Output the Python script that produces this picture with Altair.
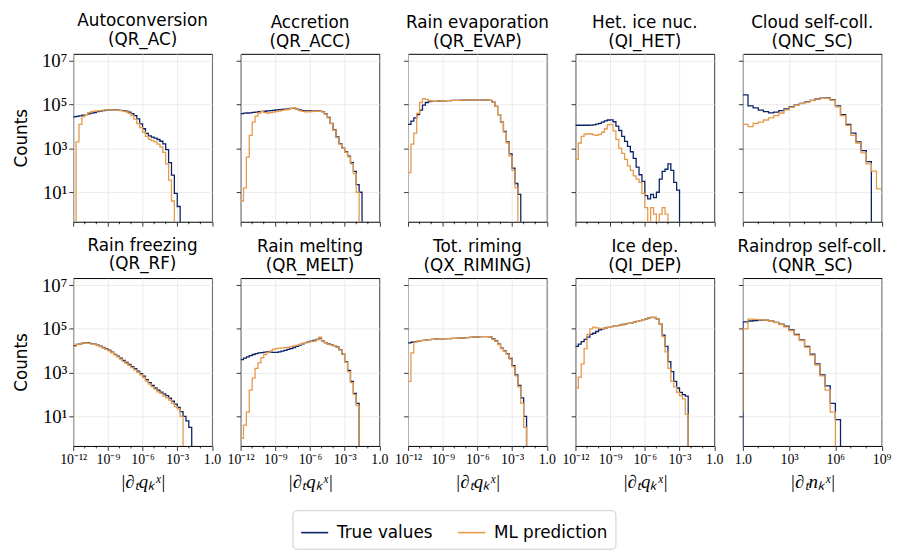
import altair as alt
import pandas as pd

SERIES = ["True values", "ML prediction"]
COLORS = ["#0c2266", "#e59a4a"]

TITLES = [
    ["Autoconversion", "(QR_AC)"],
    ["Accretion", "(QR_ACC)"],
    ["Rain evaporation", "(QR_EVAP)"],
    ["Het.  ice nuc.", "(QI_HET)"],
    ["Cloud self-coll.", "(QNC_SC)"],
    ["Rain freezing", "(QR_RF)"],
    ["Rain melting", "(QR_MELT)"],
    ["Tot.  riming", "(QX_RIMING)"],
    ["Ice dep.", "(QI_DEP)"],
    ["Raindrop self-coll.", "(QNR_SC)"],
]
KINDS = ["q", "q", "q", "q", "n", "q", "q", "q", "q", "n"]

# histogram bins (log10 of bin lower edges): start, width, end
BIN_START = [-12, -12, -12, -12, 0, -12, -12, -12, -12, -1 / 3]
BIN_WIDTH = {"q": 0.25, "n": 1 / 3}
BIN_END = {"q": 0.0, "n": 9.0}

# log10(counts) per bin, None = empty bin
TRUE_QR_AC = [4.44, 4.47, 4.49, 4.52, 4.55, 4.58, 4.61, 4.64, 4.68, 4.71, 4.73, 4.75, 4.76, 4.76, 4.76, 4.75,
              4.74, 4.73, 4.71, 4.66, 4.59, 4.50, 4.35, 4.12, 3.90, 3.69, 3.58, 3.52, 3.47, 3.41, 3.33, 3.21,
              2.95, 2.35, 1.78, 0.95, 0.35]
ML_QR_AC = [None, 3.3, 4.1, 4.45, 4.55, 4.64, 4.68, 4.70, 4.72, 4.73, 4.75, 4.76, 4.76, 4.76, 4.75, 4.74,
            4.73, 4.71, 4.67, 4.60, 4.50, 4.34, 4.14, 3.95, 3.74, 3.55, 3.42, 3.36, 3.30, 3.20, 3.07, 2.82,
            2.30, 1.55, 0.60]
TRUE_QR_ACC = [4.59, 4.61, 4.62, 4.63, 4.65, 4.66, 4.68, 4.69, 4.70, 4.72, 4.73, 4.74, 4.76, 4.77, 4.79, 4.80,
               4.81, 4.83, 4.84, 4.80, 4.76, 4.73, 4.72, 4.72, 4.72, 4.72, 4.72, 4.71, 4.68, 4.58, 4.42, 4.15,
               3.85, 3.53, 3.22, 3.02, 2.85, 2.65, 2.35, 1.95, 1.35, 1.0]
ML_QR_ACC = [0.6, 1.2, 2.6, 3.6, 4.2, 4.48, 4.62, 4.68, 4.64, 4.62, 4.64, 4.66, 4.68, 4.71, 4.74, 4.76,
             4.78, 4.82, 4.86, 4.80, 4.73, 4.69, 4.67, 4.67, 4.68, 4.70, 4.71, 4.70, 4.67, 4.57, 4.40, 4.13,
             3.83, 3.50, 3.20, 3.00, 2.83, 2.62, 2.30, 1.85, 1.0]
TRUE_QR_EVAP = [4.1, 4.25, 4.4, 4.55, 4.75, 4.98, 5.10, 5.14, 5.15, 5.15, 5.16, 5.17, 5.18, 5.19, 5.19, 5.20,
                5.20, 5.20, 5.21, 5.21, 5.21, 5.21, 5.22, 5.22, 5.22, 5.22, 5.22, 5.22, 5.20, 5.13, 4.92, 4.55,
                4.20, 3.78, 3.30, 2.75, 2.10, 1.40, 0.90]
ML_QR_EVAP = [1.9, 3.2, 3.7, 4.6, 5.1, 5.28, 5.24, 5.18, 5.16, 5.15, 5.16, 5.17, 5.18, 5.19, 5.19, 5.20,
              5.20, 5.20, 5.21, 5.21, 5.21, 5.21, 5.22, 5.22, 5.22, 5.22, 5.22, 5.22, 5.20, 5.13, 4.92, 4.55,
              4.18, 3.75, 3.25, 2.65, 2.0, 1.2]
TRUE_QI_HET = [4.06, 4.06, 4.06, 4.06, 4.06, 4.07, 4.08, 4.11, 4.15, 4.20, 4.26, 4.30, 4.31, 4.22, 4.02, 3.82,
               3.55, 3.32, 3.10, 2.85, 2.55, 2.15, 1.80, 1.50, 0.85, 0.70, 0.90, 0.75, 1.00, 1.60, 1.95, 2.05,
               2.30, 2.00, 1.45, 1.10]
ML_QI_HET = [2.5, 3.25, 3.55, 3.65, 3.68, 3.66, 3.62, 3.60, 3.64, 3.74, 3.90, 4.08, 4.10, 3.80, 3.42, 3.00,
             2.78, 2.50, 2.20, 2.00, 1.75, 1.60, 1.45, 0.95, 0.30, None, 0.30, 0.0, None, 0.0, 0.30, 0.0]
TRUE_QNC_SC = [5.45, 4.95, 4.85, 4.75, 4.68, 4.63, 4.66, 4.73, 4.81, 4.90, 4.98, 5.06, 5.13, 5.20, 5.26, 5.30,
               5.31, 5.22, 4.95, 4.55, 4.10, 3.70, 3.30, 2.90, 2.40]
ML_QNC_SC = [4.1, 4.0, 4.15, 4.2, 4.3, 4.4, 4.5, 4.62, 4.76, 4.88, 4.97, 5.05, 5.12, 5.19, 5.25, 5.29,
             5.30, 5.20, 4.90, 4.50, 4.05, 3.60, 3.25, 2.80, 2.30, 1.97, 1.15]
TRUE_QR_RF = [4.24, 4.29, 4.32, 4.35, 4.37, 4.36, 4.33, 4.30, 4.26, 4.21, 4.15, 4.10, 4.03, 3.94, 3.84, 3.76,
              3.66, 3.56, 3.47, 3.38, 3.28, 3.18, 3.07, 2.96, 2.84, 2.68, 2.55, 2.42, 2.30, 2.20, 2.11, 2.03,
              1.95, 1.84, 1.70, 1.56, 1.42, 1.22, 1.00, 0.80, 0.50]
ML_QR_RF = [4.20, 4.28, 4.32, 4.35, 4.36, 4.35, 4.32, 4.29, 4.24, 4.19, 4.13, 4.07, 4.00, 3.91, 3.81, 3.72,
            3.62, 3.52, 3.43, 3.33, 3.23, 3.13, 3.02, 2.90, 2.78, 2.62, 2.48, 2.36, 2.25, 2.12, 2.05, 1.93,
            1.85, 1.75, 1.60, 1.45, 1.35, 1.0]
TRUE_QR_MELT = [3.60, 3.66, 3.72, 3.78, 3.83, 3.87, 3.90, 3.92, 3.94, 3.95, 3.94, 3.93, 3.93, 3.95, 3.98, 4.02,
                4.06, 4.10, 4.15, 4.20, 4.26, 4.32, 4.37, 4.41, 4.44, 4.47, 4.52, 4.58, 4.45, 4.37, 4.31, 4.28,
                4.24, 4.18, 4.05, 3.85, 3.50, 3.10, 2.60, 2.05, 1.60]
ML_QR_MELT = [0.0, 0.6, 1.2, 2.2, 2.75, 3.2, 3.45, 3.68, 3.82, 3.92, 4.00, 4.06, 4.10, 4.12, 4.13, 4.14,
              4.16, 4.19, 4.22, 4.25, 4.29, 4.34, 4.37, 4.40, 4.42, 4.44, 4.50, 4.62, 4.45, 4.36, 4.30, 4.27,
              4.23, 4.17, 4.04, 3.85, 3.48, 3.05, 2.55, 2.0, 1.5]
TRUE_QX_RIMING = [4.36, 4.39, 4.41, 4.43, 4.46, 4.48, 4.50, 4.51, 4.52, 4.53, 4.54, 4.55, 4.55, 4.56, 4.56, 4.57,
                  4.57, 4.58, 4.58, 4.59, 4.60, 4.61, 4.62, 4.63, 4.64, 4.65, 4.65, 4.65, 4.64, 4.55, 4.45, 4.30,
                  4.12, 4.00, 3.87, 3.65, 3.32, 2.90, 2.42, 1.85, 1.00]
ML_QX_RIMING = [2.6, 3.9, 4.38, 4.44, 4.46, 4.48, 4.50, 4.51, 4.52, 4.53, 4.54, 4.55, 4.55, 4.56, 4.56, 4.57,
                4.57, 4.58, 4.58, 4.59, 4.60, 4.61, 4.62, 4.63, 4.64, 4.65, 4.65, 4.65, 4.64, 4.53, 4.43, 4.28,
                4.10, 3.98, 3.85, 3.62, 3.28, 2.85, 2.35, 1.60, 0.50]
TRUE_QI_DEP = [4.20, 4.30, 4.42, 4.52, 4.62, 4.75, 4.80, 4.88, 4.95, 5.00, 5.04, 5.07, 5.10, 5.12, 5.15, 5.17,
               5.20, 5.23, 5.25, 5.28, 5.31, 5.34, 5.38, 5.42, 5.46, 5.50, 5.53, 5.52, 5.45, 5.22, 4.72, 4.20,
               3.50, 3.05, 2.60, 2.30, 2.10, 2.00, 1.93]
ML_QI_DEP = [2.3, 2.8, 3.4, 4.1, 4.75, 5.0, 5.08, 5.05, 5.02, 5.02, 5.04, 5.07, 5.10, 5.12, 5.15, 5.17,
             5.20, 5.23, 5.25, 5.28, 5.31, 5.34, 5.38, 5.42, 5.46, 5.50, 5.53, 5.52, 5.45, 5.20, 4.65, 3.95,
             3.20, 2.60, 2.35, 2.10, 1.95, 1.80, 1.10]
TRUE_QNR_SC = [None, 5.32, 5.36, 5.38, 5.40, 5.40, 5.37, 5.30, 5.22, 5.12, 4.95, 4.75, 4.50, 4.20, 3.85, 3.40,
               2.90, 2.40, 1.60, 0.86]
ML_QNR_SC = [1.24, 5.0, 5.45, 5.43, 5.41, 5.40, 5.36, 5.29, 5.20, 5.09, 4.92, 4.72, 4.47, 4.17, 3.80, 3.35,
             2.85, 2.20, 1.20]

TRUE_VALUES = [TRUE_QR_AC, TRUE_QR_ACC, TRUE_QR_EVAP, TRUE_QI_HET, TRUE_QNC_SC,
               TRUE_QR_RF, TRUE_QR_MELT, TRUE_QX_RIMING, TRUE_QI_DEP, TRUE_QNR_SC]
ML_VALUES = [ML_QR_AC, ML_QR_ACC, ML_QR_EVAP, ML_QI_HET, ML_QNC_SC,
             ML_QR_RF, ML_QR_MELT, ML_QX_RIMING, ML_QI_DEP, ML_QNR_SC]

X_DOMAIN = {"q": [1e-12, 1.0], "n": [1.0, 1e9]}
X_MAJOR = {"q": [-12, -9, -6, -3, 0], "n": [0, 3, 6, 9]}
X_MINOR = {"q": [-11, -10, -8, -7, -5, -4, -2, -1], "n": [1, 2, 4, 5, 7, 8]}
X_TITLE = {"q": "|∂ₜqₖˣ|", "n": "|∂ₜnₖˣ|"}
Y_DOMAIN = [0.45, 2.1e7]
Y_MAJOR = [1, 3, 5, 7]
EMPTY = 1e-3

SUP = str.maketrans("-0123456789", "⁻⁰¹²³⁴⁵⁶⁷⁸⁹")
SANS = "DejaVu Sans"
SERIF = "Liberation Serif"
W, H = 140.5, 170


def label_expr(exps):
    parts = []
    for e in exps:
        lab = "1.0" if e == 0 else "10" + str(e).translate(SUP)
        parts.append(f"round(log(datum.value)/LN10) == {e} ? '{lab}'")
    return " : ".join(parts) + " : ''"


def series_rows(vals, start, width, n_total, label):
    vals = list(vals) + [None] * (n_total - len(vals))
    rows = []
    for k, v in enumerate(vals):
        rows.append({"x": 10 ** (start + k * width), "y": EMPTY if v is None else 10 ** v, "s": label})
    rows.append({"x": 10 ** (start + len(vals) * width), "y": rows[-1]["y"], "s": label})
    return rows


def panel(i):
    row, col = divmod(i, 5)
    kind = KINDS[i]
    start, width = BIN_START[i], BIN_WIDTH[kind]
    n_total = round((BIN_END[kind] - start) / width)
    df = pd.DataFrame(series_rows(TRUE_VALUES[i], start, width, n_total, SERIES[0])
                      + series_rows(ML_VALUES[i], start, width, n_total, SERIES[1]))
    xscale = alt.Scale(type="log", domain=X_DOMAIN[kind], nice=False)
    yscale = alt.Scale(type="log", domain=Y_DOMAIN, nice=False)
    xaxis_kw = dict(values=[10.0 ** e for e in X_MAJOR[kind]], labelExpr=label_expr(X_MAJOR[kind]),
                    labels=bool(row == 1), grid=True, tickSize=4.5, labelFlush=False, labelOverlap=False,
                    labelFont=SERIF, labelFontSize=14, labelPadding=2,
                    titleFont=SERIF, titleFontSize=19, titleFontStyle="italic", titlePadding=7)
    xaxis_kw["title"] = X_TITLE[kind] if row == 1 else None
    yaxis_kw = dict(values=[10.0 ** e for e in Y_MAJOR], labelExpr=label_expr(Y_MAJOR),
                    labels=bool(col == 0), grid=True, tickSize=4.5, labelOverlap=False,
                    labelFont=SERIF, labelFontSize=19, labelPadding=2,
                    titleFont=SANS, titleFontSize=17, titlePadding=11)
    yaxis_kw["title"] = "Counts" if col == 0 else None
    color = alt.Color("s:N", scale=alt.Scale(domain=SERIES, range=COLORS), title=None,
                      legend=alt.Legend(orient="none", legendX=222, legendY=462, direction="horizontal",
                                        symbolType="stroke", symbolStrokeWidth=1.6, symbolSize=750,
                                        labelFont=SANS, labelFontSize=17, labelColor="black",
                                        strokeColor="#cccccc", fillColor="white", cornerRadius=4,
                                        padding=8, columnPadding=22, labelOffset=8))
    base = alt.Chart(df)
    layers = []
    for s in SERIES:
        layers.append(
            base.transform_filter(alt.datum.s == s)
            .mark_line(clip=True, strokeWidth=1.3, interpolate="step-after")
            .encode(x=alt.X("x:Q", scale=xscale, axis=alt.Axis(**xaxis_kw)),
                    y=alt.Y("y:Q", scale=yscale, axis=alt.Axis(**yaxis_kw)),
                    color=color)
        )
    minor = alt.Chart(pd.DataFrame({"x": [10.0 ** e for e in X_MINOR[kind]]})).mark_rule(
        color="black", strokeWidth=0.8).encode(
        x=alt.X("x:Q", scale=xscale, axis=alt.Axis(**xaxis_kw)), y=alt.value(H), y2=alt.value(H + 2.5))
    layers.append(minor)
    return alt.layer(*layers).properties(
        width=W, height=H,
        title=alt.TitleParams(TITLES[i], font=SANS, fontSize=17, fontWeight="normal",
                              lineHeight=19, offset=3, color="black"))


chart = alt.concat(*[panel(i) for i in range(10)], columns=5,
                   spacing={"row": 57, "column": 28.5}, bounds="flush").properties(
    padding={"left": 4, "top": 0, "right": 0, "bottom": 2}, background="white"
).configure_view(stroke="black", strokeWidth=1).configure_axis(
    domain=False, tickColor="black", tickWidth=0.8, gridColor="#e6e6e6", gridWidth=0.8,
    labelColor="black", titleColor="black", titleFontWeight="normal")

chart.save("out.html", embed_options={"renderer": "svg", "actions": False})
